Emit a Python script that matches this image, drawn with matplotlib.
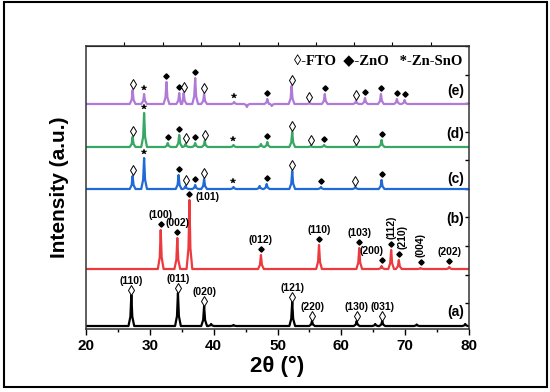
#!/usr/bin/env python3
"""XRD patterns of FTO, ZnO and Zn-SnO films, stacked with offsets."""

import matplotlib

matplotlib.use("Agg")
import numpy as np
from matplotlib import pyplot as plt
from matplotlib.patches import Rectangle

# --- data (2theta in degrees, heights in arbitrary units) ---
# phase codes: F = FTO (open diamond), Z = ZnO (filled diamond), S = Zn-SnO (star), "" = none
a_pos = [27.1, 34.4, 38.5, 39.6, 43.1, 52.3, 55.4, 62.4, 65.3, 66.4, 71.8, 79.4]
a_height = [31, 33, 20, 2, 1, 24, 5, 5, 2, 5, 1.5, 2]
a_phase = ["F", "F", "F", "", "", "F", "F", "F", "", "F", "", ""]
a_hkl = ["(110)", "(011)", "(020)", "", "", "(121)", "(220)", "(130)", "", "(031)", "", ""]

b_pos = [31.7, 34.3, 36.2, 47.4, 56.5, 62.8, 66.3, 67.8, 69.0, 72.4, 76.9]
b_height = [39, 31, 69, 14, 24, 21, 3, 19, 9, 1, 2]
b_phase = ["Z"] * 11
b_hkl = ["(100)", "(002)", "(101)", "(012)", "(110)", "(103)", "(200)", "(112)", "(210)", "(004)", "(202)"]

c_pos = [27.3, 29.1, 34.5, 35.6, 37.1, 38.5, 43.1, 47.2, 48.3, 52.3, 56.8, 62.2, 66.3]
c_height = [13, 31, 14, 3, 4, 10, 2, 3, 5, 18, 2, 2, 9]
c_phase = ["F", "S", "Z", "F", "Z", "F", "S", "", "Z", "F", "Z", "F", "Z"]

d_pos = [27.3, 29.1, 32.8, 34.6, 35.6, 37.1, 38.6, 43.1, 47.4, 48.4, 52.3, 55.2, 57.3, 62.3, 66.3]
d_height = [10, 34, 4, 12, 3, 4, 6, 2, 3, 5, 15, 1, 2, 1, 7]
d_phase = ["F", "S", "Z", "Z", "F", "Z", "F", "S", "", "Z", "F", "F", "Z", "F", "Z"]

e_pos = [27.3, 29.1, 32.6, 34.6, 35.3, 37.1, 38.5, 43.2, 45.2, 48.4, 49.1, 52.2, 55.0,
         57.4, 62.3, 63.7, 66.2, 68.7, 69.9]
e_height = [14, 10, 22, 11, 11, 26, 10, 2, -3, 5, -2, 18, 1, 10, 3, 6, 10, 5, 4]
e_phase = ["F", "S", "Z", "Z", "F", "Z", "F", "S", "", "Z", "", "F", "F",
           "Z", "F", "Z", "Z", "Z", "Z"]

offsets = {"a": 3, "b": 60, "c": 140, "d": 182, "e": 225}
series_tags = ["(a)", "(b)", "(c)", "(d)", "(e)"]
tag_y = [17, 110, 150, 195, 238]
colors = {"a": "#000000", "b": "#ec3a3f", "c": "#2069d6", "d": "#36a863", "e": "#b07ad9"}

SANS = ["Liberation Sans", "DejaVu Sans"]
plt.rcParams["font.family"] = SANS
plt.rcParams["font.weight"] = "bold"


def _profile(pos, height, half=0.45):
    """Polyline vertices for a pattern: flat baseline with narrow peaks."""
    xs, ys = [20.0], [0.0]
    for p, h in zip(pos, height):
        xs += [p - half, p - 0.15, p, p + 0.15, p + half]
        ys += [0.0, 0.3 * h, h, 0.3 * h, 0.0]
    xs.append(80.0)
    ys.append(0.0)
    xs, ys = np.asarray(xs), np.asarray(ys)
    order = np.argsort(xs, kind="stable")
    return xs[order], ys[order]


def _markers(ax, pos, height, phase, base, gap=5.5):
    for p, h, ph in zip(pos, height, phase):
        y = base + max(h, 0) + gap
        if ph == "F":
            ax.plot(p, y, marker="d", ms=5.2, mfc="white", mec="black", mew=0.7, zorder=5)
        elif ph == "Z":
            ax.plot(p, y, marker="D", ms=2.7, mfc="black", mec="black", zorder=5)
        elif ph == "S":
            ax.plot(p, y, marker="*", ms=3.8, mfc="black", mec="black", mew=0.3, zorder=5)


figure = plt.figure(figsize=(5.5, 3.92), dpi=100)
ax = figure.add_axes([0.1564, 0.1607, 0.6964, 0.722])

series = {
    "a": (a_pos, a_height, a_phase),
    "b": (b_pos, b_height, b_phase),
    "c": (c_pos, c_height, c_phase),
    "d": (d_pos, d_height, d_phase),
    "e": (e_pos, e_height, e_phase),
}
for key, (pos, height, phase) in series.items():
    x, y = _profile(pos, height)
    ax.plot(x, y + offsets[key], color=colors[key], lw=1.6, solid_joinstyle="round")
    _markers(ax, pos, height, phase, offsets[key])

# hkl labels of the FTO reference pattern (a)
for p, h, lab in zip(a_pos, a_height, a_hkl):
    if lab:
        ax.text(p, offsets["a"] + h + 9.5, lab, ha="center", va="bottom", fontsize=7.5)

# hkl labels of the ZnO pattern (b)
b_base = offsets["b"]
for p, h, lab in zip(b_pos, b_height, b_hkl):
    top = b_base + h + 5.5
    if lab == "(101)":
        ax.text(p + 0.9, top - 3, lab, ha="left", va="center", fontsize=7.5)
    elif lab == "(200)":
        ax.text(p - 1.6, top + 9.5, lab, ha="center", va="center", fontsize=7.5)
    elif lab in ("(112)", "(210)", "(004)"):
        dx = 0.6 if lab == "(210)" else 0.0
        ax.text(p + dx, top + 5, lab, ha="center", va="bottom", rotation=90, fontsize=7.5)
    else:
        ax.text(p, top + 4, lab, ha="center", va="bottom", fontsize=7.5)

for tag, ty in zip(series_tags, tag_y):
    ax.text(79.2, ty, tag, ha="right", va="center", fontsize=10)

ax.text(65.8, 267, "\u25ca-FTO  \u25c6-ZnO   *-Zn-SnO", ha="center", va="center",
        fontsize=10.5, fontweight="bold", family=["Liberation Serif", "DejaVu Sans"])

ax.set_xlim(20, 80)
ax.set_ylim(0, 283)
ax.set_xticks(np.arange(20, 81, 10))
ax.set_xticks(np.arange(25, 80, 10), minor=True)
ax.tick_params(axis="x", which="major", direction="out", length=4, width=1, labelsize=11, pad=3)
ax.tick_params(axis="x", which="minor", direction="out", length=2.5, width=1)
ax.set_yticks(np.arange(26, 283, 28.5))
ax.tick_params(axis="y", left=False, right=True, direction="in", length=3, width=1,
               labelleft=False)

top_ax = ax.secondary_xaxis("top")
top_ax.set_xticks(np.arange(26, 80, 6))
top_ax.tick_params(direction="out", length=3, width=0.8, labeltop=False)

for spine in ax.spines.values():
    spine.set_linewidth(1.1)
    spine.set_color("#333333")

ax.set_xlabel("2\u03b8 (\u00b0)", fontsize=16, fontweight="bold", labelpad=2)
ax.set_ylabel("Intensity (a.u.)", fontsize=15, fontweight="bold", labelpad=12)

figure.patches.append(Rectangle((0.007, 0.012), 0.987, 0.982, transform=figure.transFigure,
                                fill=False, edgecolor="black", linewidth=1.5))

figure.savefig("out.png", dpi=100, facecolor="white")
plt.close(figure)
